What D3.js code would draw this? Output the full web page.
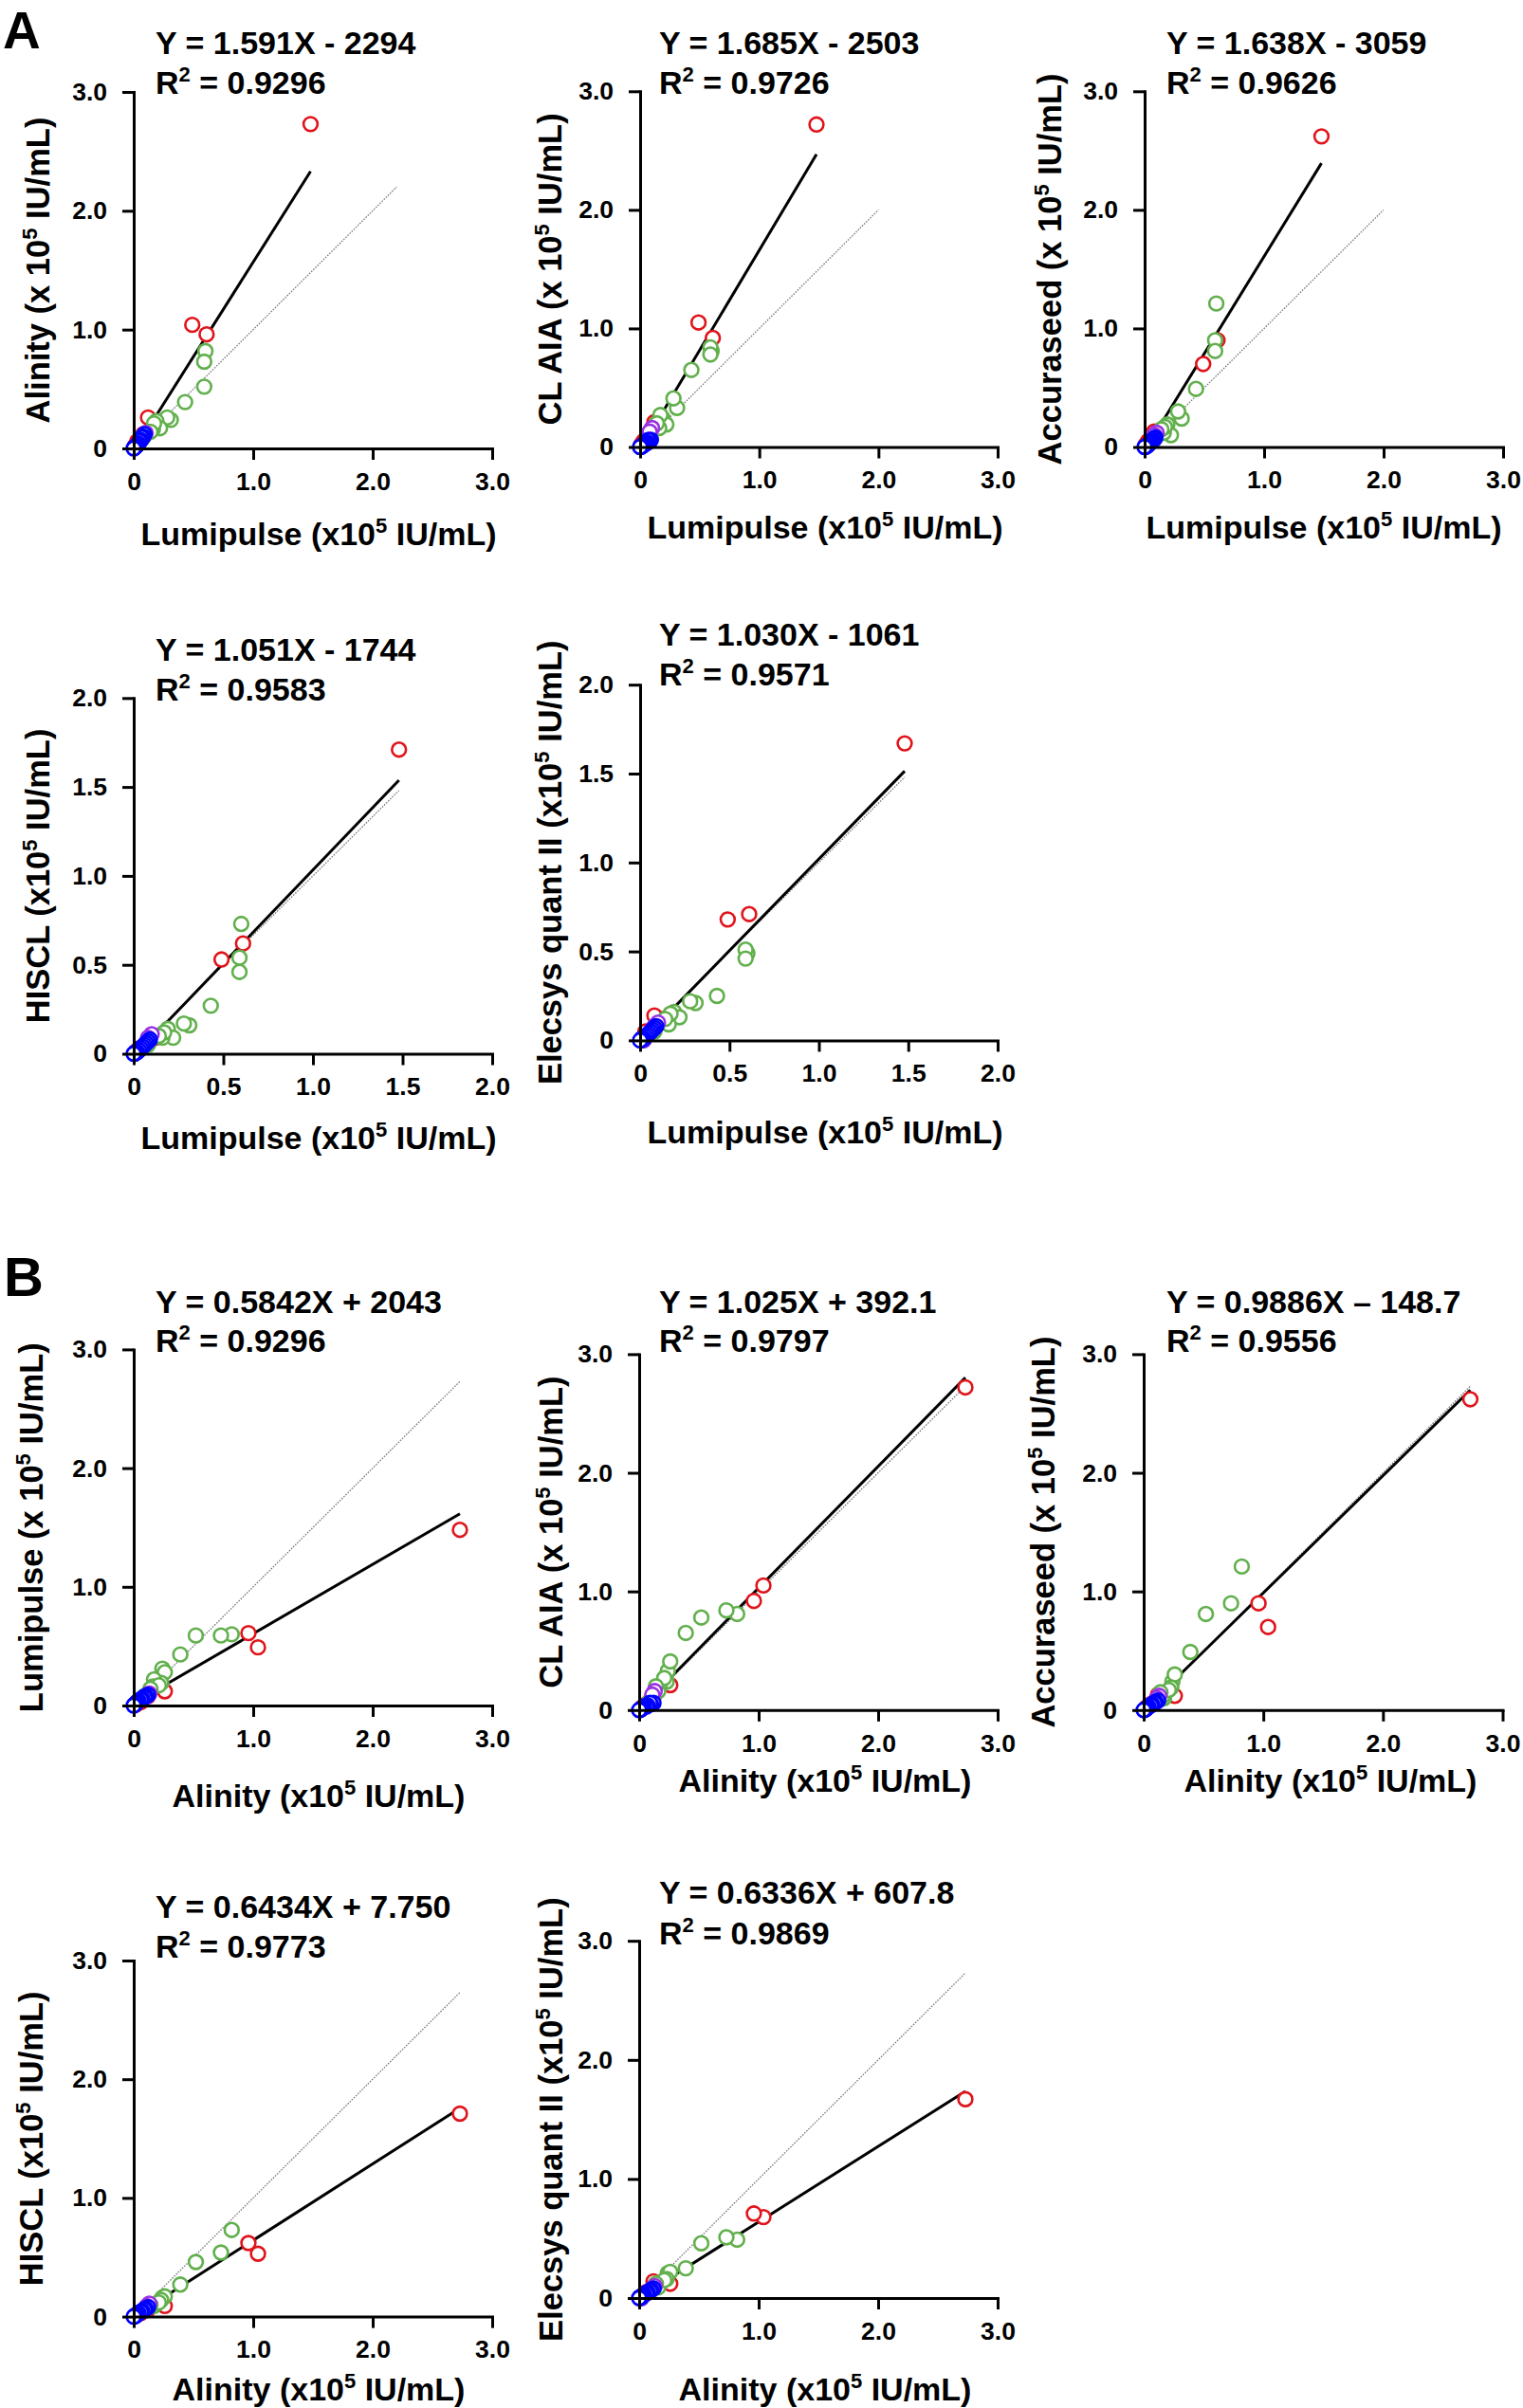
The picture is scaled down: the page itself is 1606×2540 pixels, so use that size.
<!DOCTYPE html>
<html><head><meta charset="utf-8">
<script src="https://cdn.jsdelivr.net/npm/d3@7"></script>
<style>
body{margin:0;background:#fff;}
svg{display:block;font-family:"Liberation Sans",Arial,Helvetica,sans-serif;font-weight:bold;}
</style></head><body>
<svg id="chart" width="1606" height="2540"></svg>
<script>
// ---------- DATA (values in x10^5 IU/mL) ----------
const sampleGroup = ["red","red","red","red","red","red","red",
  "green","green","green","green","green","green","green","green","green","green","green","green",
  "purple","purple","purple",
  "blue","blue","blue","blue","blue","blue","blue","blue","blue","blue","blue"];
const lumipulse  = [1.48,0.49,0.61,0.12,0.08,0.03,0.01, 0.60,0.59,0.59,0.43,0.31,0.28,0.19,0.22,0.16,0.17,0.14,0.08, 0.10,0.08,0.02, 0.09,0.08,0.07,0.06,0.05,0.04,0.03,0.02,0.01,0.005,0.0];
const alinity    = [2.73,1.04,0.96,0.26,0.12,0.06,0.02, 0.82,0.73,0.52,0.39,0.24,0.26,0.23,0.17,0.16,0.21,0.14,0.09, 0.13,0.11,0.02, 0.12,0.10,0.09,0.07,0.06,0.04,0.03,0.02,0.01,0.005,0.0];
const clAia      = [2.72,1.05,0.92,0.21,0.11,0.05,0.02, 0.81,0.84,0.78,0.65,0.33,0.41,0.24,0.19,0.16,0.27,0.20,0.08, 0.16,0.13,0.01, 0.06,0.05,0.06,0.04,0.03,0.03,0.02,0.01,0.005,0.0,0.0];
const accuraseed = [2.62,0.70,0.90,0.12,0.13,0.05,0.02, 1.21,0.90,0.81,0.49,0.24,0.30,0.19,0.10,0.12,0.17,0.15,0.06, 0.12,0.10,0.01, 0.08,0.07,0.06,0.05,0.04,0.03,0.02,0.01,0.005,0.0,0.0];
const hiscl      = [1.71,0.53,0.62,0.09,0.06,0.03,0.01, 0.73,0.54,0.46,0.27,0.16,0.17,0.14,0.09,0.09,0.12,0.10,0.05, 0.11,0.09,0.01, 0.08,0.07,0.06,0.05,0.04,0.03,0.02,0.01,0.01,0.0,0.0];
const elecsys    = [1.67,0.68,0.71,0.12,0.14,0.05,0.01, 0.49,0.51,0.46,0.25,0.21,0.22,0.16,0.13,0.09,0.15,0.12,0.05, 0.10,0.08,0.0, 0.08,0.07,0.06,0.05,0.04,0.03,0.02,0.01,0.01,0.0,0.0];

const panelLetters = ["A","B"];
const panelX = ["Lumipulse","Lumipulse","Lumipulse","Lumipulse","Lumipulse","Alinity","Alinity","Alinity","Alinity","Alinity"];
const panelY = ["Alinity","CL AIA","Accuraseed","HISCL","Elecsys","Lumipulse","CL AIA","Accuraseed","HISCL","Elecsys"];
const equations = ["Y = 1.591X - 2294","Y = 1.685X - 2503","Y = 1.638X - 3059","Y = 1.051X - 1744","Y = 1.030X - 1061",
  "Y = 0.5842X + 2043","Y = 1.025X + 392.1","Y = 0.9886X \u2013 148.7","Y = 0.6434X + 7.750","Y = 0.6336X + 607.8"];
const r2Values = ["0.9296","0.9726","0.9626","0.9583","0.9571","0.9296","0.9797","0.9556","0.9773","0.9869"];
const slopes = [1.591,1.685,1.638,1.051,1.030,0.5842,1.025,0.9886,0.6434,0.6336];
const intercepts = [-2294,-2503,-3059,-1744,-1061,2043,392.1,-148.7,7.750,607.8]; // IU/mL
const axisMax = [3,3,3,2,2,3,3,3,3,3];
const ticksFull = [0,1,2,3];
const ticksHalf = [0,0.5,1,1.5,2];
const identityEnd = [2.2,2.0,2.0,1.48,1.48,2.73,2.73,2.73,2.73,2.73];
const yTitleMain = ["Alinity (x 10","CL AIA (x 10","Accuraseed (x 10","HISCL  (x10","Elecsys quant II (x10",
  "Lumipulse (x 10","CL AIA (x 10","Accuraseed (x 10","HISCL  (x10","Elecsys quant II (x10"];
const xTitleMain = ["Lumipulse (x10","Lumipulse (x10","Lumipulse (x10","Lumipulse (x10","Lumipulse (x10",
  "Alinity (x10","Alinity (x10","Alinity (x10","Alinity (x10","Alinity (x10"];
const titleTail = " IU/mL)";

// ---------- LAYOUT ----------
const frames = [
  {l:141,r:519,t:97,b:473},{l:675,r:1052,t:96.3,b:471.5},{l:1207,r:1585,t:96.3,b:471.5},
  {l:141,r:519,t:736.3,b:1111.5},{l:675,r:1052,t:722.2,b:1097.4},
  {l:141,r:519,t:1423.4,b:1799},{l:674,r:1052,t:1428.4,b:1803.8},{l:1206,r:1584.5,t:1428.4,b:1803.8},
  {l:141,r:519,t:2068,b:2443.6},{l:674,r:1052,t:2047.2,b:2424}];
const eqPos = [[164,57],[695,57],[1230,57],[164,697],[695,681],[164,1385],[695,1385],[1230,1385],[164,2023],[695,2008]];
const r2Pos = [99,99,99,739,723,1426,1426,1426,2065,2051];
const xTitlePos = [[336,575],[870,568],[1396,568],[336,1212],[870,1206],[336,1906],[870,1890],[1403,1890],[336,2532],[870,2532]];
const yTitleX = [40,580,1107,40,580,33,581,1100,33,581];
const letterPos = [[3,51],[4,1367]];

const colors = {red:"#e0141b", green:"#62b04d", purple:"#9a32e2", blue:"#0000ff"};
const assayData = {"Lumipulse":lumipulse,"Alinity":alinity,"CL AIA":clAia,"Accuraseed":accuraseed,"HISCL":hiscl,"Elecsys":elecsys};
const drawOrder = ["red","green","purple","blue"];

const svg = d3.select("#chart");
svg.append("rect").attr("width",1606).attr("height",2540).attr("fill","#fff");

panelLetters.forEach((L,i)=>{
  svg.append("text").attr("x",letterPos[i][0]).attr("y",letterPos[i][1])
    .attr("font-size",i===0?55:58).attr("fill","#000").text(L);
});

function supTitle(sel, main){
  sel.append("tspan").text(main);
  sel.append("tspan").attr("font-size",22).attr("dy",-13).text("5");
  sel.append("tspan").attr("dy",13).text(titleTail);
}

frames.forEach((f,i)=>{
  const max = axisMax[i];
  const x = d3.scaleLinear().domain([0,max]).range([f.l,f.r]);
  const y = d3.scaleLinear().domain([0,max]).range([f.b,f.t]);
  const tv = max===3 ? ticksFull : ticksHalf;
  const fmt = d => d===0 ? "0" : d.toFixed(1);
  const g = svg.append("g");

  // identity line
  g.append("line").attr("x1",x(0)).attr("y1",y(0)).attr("x2",x(identityEnd[i])).attr("y2",y(identityEnd[i]))
    .attr("stroke","#7a7a7a").attr("stroke-width",1.3).attr("stroke-dasharray","1.6,1.4");

  // regression line
  const xs = assayData[panelX[i]], ys = assayData[panelY[i]];
  const m = slopes[i], b = intercepts[i]/1e5;
  let x0 = d3.min(xs), x1 = d3.max(xs);
  if (m*x0 + b < 0) x0 = -b/m;
  g.append("line").attr("x1",x(x0)).attr("y1",y(m*x0+b)).attr("x2",x(x1)).attr("y2",y(m*x1+b))
    .attr("stroke","#000").attr("stroke-width",3);

  // points
  drawOrder.forEach(grp=>{
    const idx = d3.range(xs.length).filter(k=>sampleGroup[k]===grp);
    g.selectAll(null).data(idx).enter().append("circle")
      .attr("cx",k=>x(xs[k])).attr("cy",k=>y(ys[k])).attr("r",7.4)
      .attr("fill","#fff").attr("stroke",colors[grp]).attr("stroke-width",2.6);
  });

  // axes
  const ax = g.append("g").attr("transform",`translate(0,${f.b})`)
    .call(d3.axisBottom(x).tickValues(tv).tickFormat(fmt).tickSize(12).tickPadding(13).tickSizeOuter(0));
  const ay = g.append("g").attr("transform",`translate(${f.l},0)`)
    .call(d3.axisLeft(y).tickValues(tv).tickFormat(fmt).tickSize(12).tickPadding(16).tickSizeOuter(0));
  [ax,ay].forEach(a=>{
    a.select(".domain").attr("stroke","#000").attr("stroke-width",3).attr("stroke-linecap","square");
    a.selectAll(".tick line").attr("stroke","#000").attr("stroke-width",3);
    a.selectAll(".tick text").attr("fill","#000").attr("font-size",26.5)
      .attr("font-family",'"Liberation Sans",Arial,sans-serif').attr("font-weight","bold");
  });

  // equation + R2
  g.append("text").attr("x",eqPos[i][0]).attr("y",eqPos[i][1]).attr("font-size",34).text(equations[i]);
  const r2 = g.append("text").attr("x",eqPos[i][0]).attr("y",r2Pos[i]).attr("font-size",34);
  r2.append("tspan").text("R");
  r2.append("tspan").attr("font-size",22).attr("dy",-13).text("2");
  r2.append("tspan").attr("dy",13).text(" = " + r2Values[i]);

  // x title
  const xt = g.append("text").attr("x",xTitlePos[i][0]).attr("y",xTitlePos[i][1])
    .attr("text-anchor","middle").attr("font-size",34);
  supTitle(xt, xTitleMain[i]);
  // y title
  const cy = (f.t+f.b)/2;
  const yt = g.append("text").attr("transform",`translate(${yTitleX[i]+12},${cy}) rotate(-90)`)
    .attr("text-anchor","middle").attr("font-size",34.5);
  supTitle(yt, yTitleMain[i]);
});
</script>
</body></html>
